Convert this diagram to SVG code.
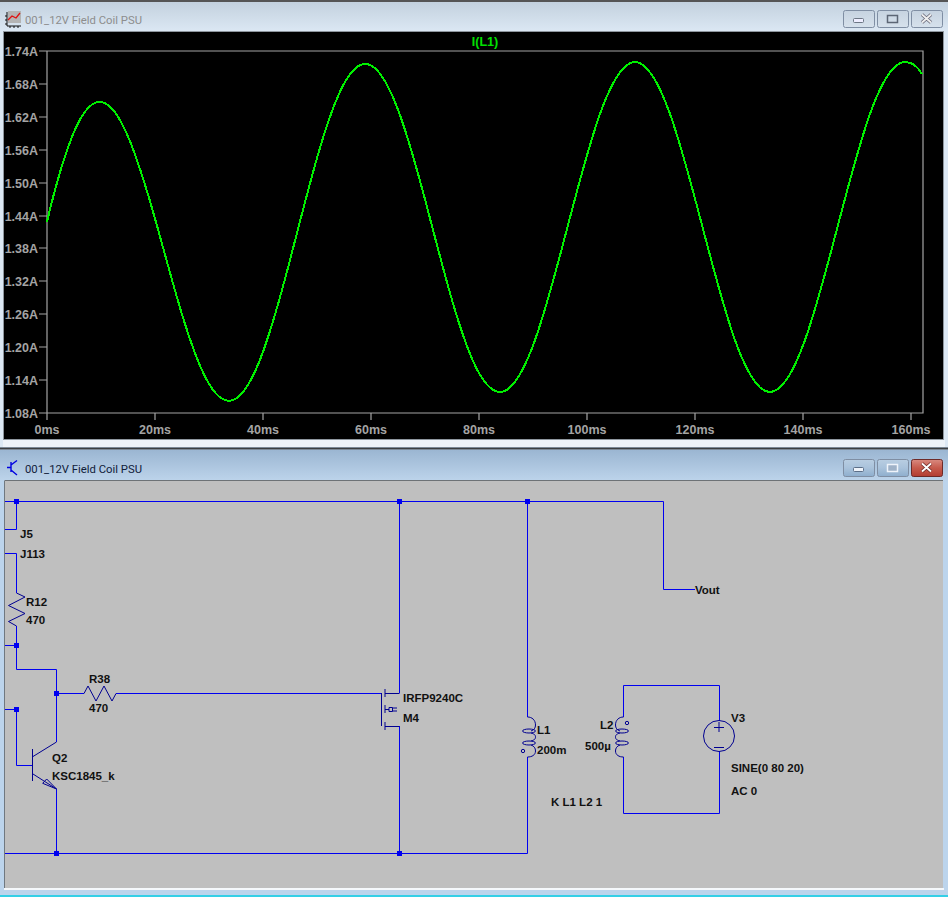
<svg xmlns="http://www.w3.org/2000/svg" width="948" height="897" viewBox="0 0 948 897">
<style>
.ax{font:bold 12.5px "Liberation Sans",Arial,sans-serif;fill:#a4a4a4}
.axx{text-anchor:middle}
.axy{text-anchor:end}
.t{font:bold 11.5px "Liberation Sans",Arial,sans-serif;fill:#111}
.title{font:11.3px Roboto,"Liberation Sans",sans-serif}
.w{fill:none;stroke:#0000f0;stroke-width:1}
.c{fill:none;stroke:#000090;stroke-width:1}
.j{fill:#0000f0}
.tick{stroke:#a4a4a4;stroke-width:1.2;fill:none}
.btn{stroke:#7f8ea3;stroke-width:1;rx:2}
</style>
<defs>
<linearGradient id="inact" x1="0" y1="0" x2="0" y2="1"><stop offset="0" stop-color="#c3d1de"/><stop offset="1" stop-color="#dce8f4"/></linearGradient>
<linearGradient id="act" x1="0" y1="0" x2="0" y2="1"><stop offset="0" stop-color="#9bb6d2"/><stop offset="1" stop-color="#bdd4eb"/></linearGradient>
<linearGradient id="btnI" x1="0" y1="0" x2="0" y2="1"><stop offset="0" stop-color="#c6d3e0"/><stop offset="1" stop-color="#d6e1ec"/></linearGradient>
<linearGradient id="btnA" x1="0" y1="0" x2="0" y2="1"><stop offset="0" stop-color="#b9cee2"/><stop offset=".5" stop-color="#a9c2db"/><stop offset="1" stop-color="#8eaecd"/></linearGradient>
<linearGradient id="btnC" x1="0" y1="0" x2="0" y2="1"><stop offset="0" stop-color="#d98a80"/><stop offset=".5" stop-color="#c65a4c"/><stop offset="1" stop-color="#b23c32"/></linearGradient>
</defs>

<g id="plot-window">
<rect x="0" y="0" width="948" height="448" fill="#dce8f4"/>
<rect x="0" y="0" width="948" height="2" fill="#555"/>
<rect x="0" y="2" width="948" height="30" fill="url(#inact)"/>
<rect x="4" y="32" width="940" height="408" fill="#000"/>
<rect x="3.5" y="31.5" width="940" height="408" fill="none" stroke="#8e969e"/>
<rect x="3" y="440" width="942" height="7" fill="#eef3f9"/>
<rect x="8" y="11" width="13" height="12" fill="#b4b4b4"/>
<path d="M8,20L12,16L16,18L20,13" fill="none" stroke="#e01010" stroke-width="1.3"/>
<path d="M7,12V26H21M5,16H7M5,20H7M5,24H7M10,26V28M14,26V28M18,26V28" fill="none" stroke="#111" stroke-width="1"/>
<text class="title" x="25" y="24" fill="#8d8d8d">001_12V Field Coil PSU</text>
<rect class="btn" x="843.5" y="10.5" width="31" height="17" fill="url(#btnI)"/>
<rect class="btn" x="877.5" y="10.5" width="31" height="17" fill="url(#btnI)"/>
<rect class="btn" x="911.5" y="10.5" width="31" height="17" fill="url(#btnI)"/>
<rect x="853.5" y="18.5" width="10" height="4" rx="1" fill="#eef" stroke="#6d7785"/>
<rect x="887.5" y="15.5" width="10" height="7" fill="none" stroke="#5c6675" stroke-width="1.5"/>
<path d="M922,14.5L931,22.5M931,14.5L922,22.5" stroke="#667" stroke-width="3.4"/>
<path d="M922,14.5L931,22.5M931,14.5L922,22.5" stroke="#eee" stroke-width="1.8"/>

<path class="tick" d="M47,51H923V413H47ZM39,51H47M39,84H47M39,117H47M39,150H47M39,183H47M39,216H47M39,248H47M39,281H47M39,314H47M39,347H47M39,380H47M39,413H47M47,413V420M155,413V420M263,413V420M371,413V420M479,413V420M587,413V420M695,413V420M803,413V420M911,413V420"/>
<g class="ax axy">
<text x="38" y="56">1.74A</text><text x="38" y="89">1.68A</text><text x="38" y="122">1.62A</text><text x="38" y="155">1.56A</text><text x="38" y="188">1.50A</text><text x="38" y="221">1.44A</text><text x="38" y="253">1.38A</text><text x="38" y="286">1.32A</text><text x="38" y="319">1.26A</text><text x="38" y="352">1.20A</text><text x="38" y="385">1.14A</text><text x="38" y="418">1.08A</text>
</g>
<g class="ax axx">
<text x="47" y="434">0ms</text><text x="155" y="434">20ms</text><text x="263" y="434">40ms</text><text x="371" y="434">60ms</text><text x="479" y="434">80ms</text><text x="587" y="434">100ms</text><text x="695" y="434">120ms</text><text x="803" y="434">140ms</text><text x="911" y="434">160ms</text>
</g>
<text x="485" y="46" text-anchor="middle" style="font:bold 12.5px 'Liberation Sans',Arial,sans-serif" fill="#00e000">I(L1)</text>
<path id="trace" fill="none" stroke="#00f000" stroke-width="2" shape-rendering="crispEdges" d="M47,221.7C56,183.9 65,153.2 74,132C83,110.8 92,100.9 101,102C110,103.1 119,115.2 128,136.5C137,157.8 146,186.6 155,218.6C164,250.6 173,284.7 182,314.3C191,343.9 200,368.7 209,383.8C218,398.9 227,404.2 236,398.6C245,393 254,376.4 263,351.8C272,327.2 281,294.6 290,260.1C299,225.6 308,189.4 317,158C326,126.6 335,100.3 344,83.8C353,67.3 362,60.8 371,65.4C380,70 389,85.8 398,109.7C407,133.6 416,165.5 425,199.4C434,233.3 443,269 452,300C461,331 470,357 479,373.2C486,385 493,392 500,392C549,392 586,62 635,62C684,62 721,392 770,392C819,392 856,62 905,62C912,62 918,67 922,74"/>
</g>

<g id="schematic-window">
<rect x="0" y="447" width="948" height="450" fill="#bcd4ec"/>
<rect x="0" y="447.5" width="948" height="2" fill="#3c3f42"/>
<rect x="0" y="450" width="948" height="31" fill="url(#act)"/>
<rect x="5" y="481" width="938" height="407" fill="#bfbfbf"/>
<path d="M4.5,481V888" stroke="#707880" stroke-width="1"/>
<path d="M4.5,480.5H943" stroke="#6d7276" stroke-width="1"/>
<rect x="4" y="888" width="940" height="2" fill="#f5f8fb"/>
<rect x="0" y="895" width="948" height="2" fill="#35cfe6"/>
<path d="M11,462V472M7,467.5H11M11,465L17,460.5M11,470L17,475" fill="none" stroke="#0000e0" stroke-width="1.4"/>
<text class="title" x="25" y="473" fill="#10203a">001_12V Field Coil PSU</text>
<rect class="btn" x="843.5" y="459.5" width="31" height="17" fill="url(#btnA)"/>
<rect class="btn" x="877.5" y="459.5" width="31" height="17" fill="url(#btnA)"/>
<rect x="911.5" y="459.5" width="31" height="17" fill="url(#btnC)" stroke="#6e2a28" rx="2"/>
<rect x="853.5" y="467.5" width="10" height="4" rx="1" fill="#eef3fa" stroke="#5c6f88"/>
<rect x="887.5" y="464.5" width="10" height="7" fill="#9fb2c8" stroke="#eef3fa" stroke-width="1.5"/>
<path d="M922,463.5L931,471.5M931,463.5L922,471.5" stroke="#6e2a28" stroke-width="3.4"/>
<path d="M922,463.5L931,471.5M931,463.5L922,471.5" stroke="#fff" stroke-width="1.8"/>
</g>

<g id="connectors">
<path class="w" d="M5,501.5H663.5V589.5H695"/>
<path class="w" d="M16.5,501V529.5H5M5,553.5H16.5V593M16.5,626V669.5H56.5V742M5,645.5H16.5M5,709.5H16.5M16.5,709V765.5H32M56.5,693.5H84M116,693.5H381M56.5,789V853M5,853.5H527.5V757M527.5,717V501M399.5,501V693M399.5,726V853M623.5,717V685.5H719.5V721M719.5,751V813.5H623.5V757"/>
<rect class="j" x="14" y="499" width="5" height="5"/><rect class="j" x="397" y="499" width="5" height="5"/><rect class="j" x="525" y="499" width="5" height="5"/><rect class="j" x="14" y="643" width="5" height="5"/><rect class="j" x="54" y="691" width="5" height="5"/><rect class="j" x="14" y="707" width="5" height="5"/><rect class="j" x="54" y="851" width="5" height="5"/><rect class="j" x="397" y="851" width="5" height="5"/>
</g>

<g id="J5"><text class="t" x="20" y="538">J5</text></g>
<g id="J113"><text class="t" x="20" y="558">J113</text></g>
<g id="R12">
<path class="c" d="M16.5,593L25,597L8.5,605.5L25,613.5L8.5,621.5L16.5,626"/>
<text class="t" x="26" y="606">R12</text><text class="t" x="26" y="624">470</text>
</g>
<g id="R38">
<path class="c" d="M84,693.5L88,686L96,701L104,686L112,701L116,693.5"/>
<text class="t" x="89" y="683">R38</text><text class="t" x="89" y="712">470</text>
</g>
<g id="Q2">
<path class="c" d="M32.5,749V781M56.5,742L33,756.5M33,774L56.5,789M56.5,789L42.7,783.3L46.7,779Z"/>
<text class="t" x="52" y="762">Q2</text><text class="t" x="52" y="780">KSC1845_k</text>
</g>
<g id="M4">
<path class="c" d="M381.5,693V726M385,689V697M385,705V713M385,722V730M385,693.5H399.5M385,726.5H399.5M385,709.5H389M389,707.5H392.5V711.5H389ZM392.5,708H397M392.5,711H397"/>
<text class="t" x="403" y="702">IRFP9240C</text><text class="t" x="403" y="722">M4</text>
</g>
<g id="L1">
<path class="c" d="M527.5,717C532,717 535.5,720 535.5,725C535.5,728 534,730 531,731M531,733C534.5,734 535.5,735 535.5,737C535.5,739 534.5,740 531,741M531,745C534,746 535.5,748 535.5,751C535.5,755 532,757 527.5,757"/>
<ellipse class="c" cx="529" cy="731" rx="6.5" ry="2"/><ellipse class="c" cx="529" cy="743" rx="6.5" ry="2"/>
<circle class="c" cx="523" cy="751" r="1.7"/>
<text class="t" x="537" y="734">L1</text><text class="t" x="537" y="754">200m</text>
</g>
<g id="L2">
<path class="c" d="M623.5,717C619,717 615.5,720 615.5,725C615.5,728 617,730 620,731M620,733C616.5,734 615.5,735 615.5,737C615.5,739 616.5,740 620,741M620,745C617,746 615.5,748 615.5,751C615.5,755 619,757 623.5,757"/>
<ellipse class="c" cx="622" cy="731" rx="6.5" ry="2"/><ellipse class="c" cx="622" cy="743" rx="6.5" ry="2"/>
<circle class="c" cx="627" cy="723" r="1.7"/>
<text class="t" x="600" y="729">L2</text><text class="t" x="585" y="750">500µ</text>
</g>
<g id="V3">
<circle class="c" cx="719" cy="736" r="15.5"/>
<path class="c" d="M714,727.5H724M719,722V732M714,747.5H724"/>
<text class="t" x="731" y="722">V3</text><text class="t" x="731" y="772">SINE(0 80 20)</text><text class="t" x="731" y="795">AC 0</text>
</g>
<g id="K"><text class="t" x="551" y="806">K L1 L2 1</text></g>
<g id="Vout"><text class="t" x="695" y="594">Vout</text></g>
</svg>
